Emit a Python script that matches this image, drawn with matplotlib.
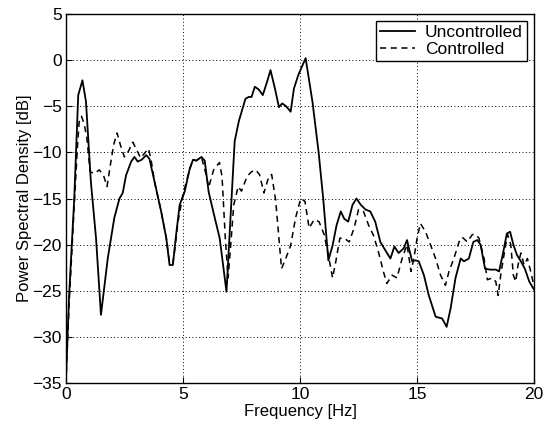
import matplotlib
matplotlib.use("Agg")
import matplotlib.pyplot as plt

plt.rcParams.update({
    "font.family": ["Liberation Sans", "DejaVu Sans"],
    "font.size": 12,
})

# Uncontrolled PSD (solid) -- frequency [Hz], level [dB]
unc_f = [0.0, 0.14, 0.36, 0.53, 0.71, 0.86, 1.07, 1.29, 1.5, 1.79, 2.07, 2.29,
         2.43, 2.57, 2.79, 2.93, 3.07, 3.24, 3.43, 3.57, 3.79, 4.07, 4.29, 4.43,
         4.57, 4.71, 4.86, 5.07, 5.29, 5.43, 5.57, 5.79, 5.93, 6.1, 6.36, 6.57,
         6.86, 7.21, 7.39, 7.67, 7.81, 7.93, 8.07, 8.24, 8.41, 8.6, 8.74, 8.93,
         9.1, 9.24, 9.4, 9.6, 9.74, 9.93, 10.24, 10.53, 10.79, 10.99, 11.21,
         11.39, 11.56, 11.74, 11.89, 12.06, 12.24, 12.41, 12.6, 12.8, 13.0,
         13.21, 13.43, 13.64, 13.86, 14.03, 14.21, 14.43, 14.57, 14.69, 14.79,
         14.93, 15.07, 15.29, 15.5, 15.79, 16.07, 16.26, 16.43, 16.64, 16.86,
         17.0, 17.21, 17.4, 17.57, 17.71, 17.9, 18.11, 18.36, 18.5, 18.67,
         18.83, 18.97, 19.11, 19.26, 19.43, 19.6, 19.79, 20.0]
unc_db = [-35.0, -25.5, -15.0, -3.8, -2.2, -4.5, -13.2, -19.3, -27.6, -21.5,
          -17.1, -15.0, -14.4, -12.5, -11.0, -10.5, -11.0, -10.8, -10.3, -10.7,
          -13.2, -16.4, -19.3, -22.2, -22.2, -18.9, -15.7, -14.3, -11.8, -10.8,
          -10.9, -10.5, -10.9, -14.3, -17.1, -19.3, -25.1, -8.8, -6.6, -4.2,
          -4.0, -4.0, -2.9, -3.2, -3.8, -2.3, -1.1, -3.1, -5.1, -4.7, -5.0, -5.6,
          -3.1, -1.6, 0.2, -4.5, -9.9, -15.0, -21.7, -20.1, -17.9, -16.4, -17.2,
          -17.5, -15.7, -15.0, -15.7, -16.2, -16.4, -17.5, -19.7, -20.6, -21.5,
          -20.2, -20.9, -20.4, -19.5, -20.8, -21.8, -21.7, -21.8, -23.3, -25.5,
          -27.8, -28.0, -28.9, -26.9, -23.6, -21.5, -21.8, -21.5, -19.7, -19.5,
          -20.0, -22.6, -22.7, -22.7, -22.9, -20.9, -18.8, -18.6, -20.0, -21.1,
          -21.8, -22.6, -24.0, -24.9]

# Controlled PSD (dashed)
con_f = [0.0, 0.14, 0.36, 0.5, 0.57, 0.67, 0.79, 0.9, 1.04, 1.21, 1.43, 1.61,
         1.76, 1.9, 2.04, 2.19, 2.33, 2.5, 2.67, 2.86, 3.0, 3.19, 3.36, 3.53,
         3.64, 3.79, 4.07, 4.29, 4.43, 4.57, 4.64, 4.79, 5.0, 5.29, 5.43, 5.57,
         5.79, 6.0, 6.1, 6.31, 6.56, 6.67, 6.81, 6.93, 7.03, 7.17, 7.36, 7.5,
         7.74, 7.93, 8.1, 8.27, 8.46, 8.67, 8.79, 8.96, 9.1, 9.21, 9.39, 9.6,
         9.81, 10.03, 10.21, 10.39, 10.6, 10.81, 11.03, 11.2, 11.39, 11.53,
         11.7, 11.89, 12.1, 12.31, 12.5, 12.71, 12.93, 13.14, 13.36, 13.57,
         13.71, 13.93, 14.14, 14.36, 14.57, 14.74, 14.86, 15.0, 15.14, 15.36,
         15.57, 15.79, 16.0, 16.21, 16.36, 16.57, 16.79, 16.93, 17.14, 17.36,
         17.5, 17.64, 17.86, 18.0, 18.21, 18.36, 18.46, 18.57, 18.71, 18.86,
         19.0, 19.11, 19.21, 19.31, 19.43, 19.57, 19.71, 19.86, 20.0]
con_db = [-35.0, -26.5, -15.7, -9.2, -6.7, -6.1, -7.0, -8.5, -12.1, -12.3,
          -11.9, -12.5, -13.7, -11.4, -9.2, -7.9, -9.2, -10.5, -9.9, -8.9, -9.6,
          -10.6, -10.1, -9.6, -10.8, -13.2, -16.4, -19.3, -22.0, -22.0, -20.8,
          -17.5, -14.6, -11.8, -10.8, -10.9, -10.5, -12.5, -13.8, -11.9, -11.1,
          -12.6, -19.3, -23.6, -20.4, -15.7, -13.7, -14.2, -12.6, -12.1, -11.9,
          -12.4, -14.4, -12.6, -12.4, -15.2, -19.3, -22.6, -21.5, -20.1, -17.1,
          -15.0, -15.3, -18.2, -17.3, -17.5, -18.9, -21.0, -23.6, -21.8, -19.3,
          -19.3, -19.7, -18.2, -16.2, -16.4, -17.9, -19.0, -20.9, -23.0, -24.2,
          -23.3, -23.6, -21.5, -20.0, -22.9, -21.5, -19.3, -17.7, -18.6, -20.0,
          -21.5, -23.3, -24.4, -22.9, -21.5, -19.7, -19.2, -19.7, -18.9, -18.9,
          -19.3, -21.5, -23.8, -23.6, -24.0, -25.5, -23.3, -21.1, -18.9, -20.0,
          -23.3, -24.0, -22.2, -20.9, -22.2, -21.5, -23.0, -24.6]

x_ticks = [0, 5, 10, 15, 20]
y_ticks = [5, 0, -5, -10, -15, -20, -25, -30, -35]


def main():
    fig = plt.figure(figsize=(5.44, 4.32), dpi=100)
    ax = fig.add_axes([0.121, 0.113, 0.861, 0.855])

    ax.plot(unc_f, unc_db, color="black", linewidth=1.3, linestyle="-",
            label="Uncontrolled")
    ax.plot(con_f, con_db, color="black", linewidth=1.1, linestyle=(0, (4, 3)),
            label="Controlled")

    ax.set_xlim(0, 20)
    ax.set_ylim(-35, 5)
    ax.set_xticks(x_ticks)
    ax.set_yticks(y_ticks)
    ax.tick_params(direction="in", length=4, labelsize=12.5)
    ax.tick_params(axis="x", pad=3)
    ax.tick_params(axis="y", pad=3)
    ax.grid(True, color="black", linestyle=(0, (1, 2.5)), linewidth=0.7)
    for s in ax.spines.values():
        s.set_linewidth(1.0)

    ax.set_xlabel("Frequency [Hz]", labelpad=1, fontsize=12)
    ax.set_ylabel("Power Spectral Density [dB]", labelpad=0, fontsize=12)

    leg = ax.legend(loc="upper right", fancybox=False, framealpha=1,
                    edgecolor="black", fontsize=12.5, handlelength=2.0,
                    handletextpad=0.6, borderaxespad=0.4, borderpad=0.25,
                    labelspacing=0.1)
    leg.get_frame().set_linewidth(1.0)

    fig.savefig("out.png", dpi=100)


if __name__ == "__main__":
    main()
